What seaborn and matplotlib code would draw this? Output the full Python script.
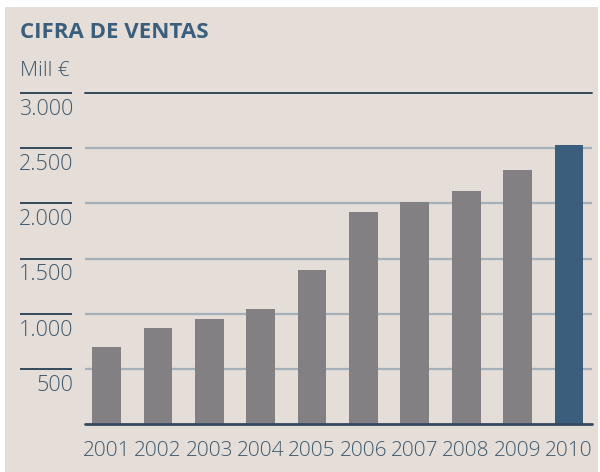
import matplotlib
matplotlib.use("Agg")
import matplotlib.pyplot as plt
import matplotlib.transforms as mtransforms
from matplotlib.patches import Rectangle
import pandas as pd
import seaborn as sns

years = ["2001", "2002", "2003", "2004", "2005", "2006", "2007", "2008", "2009", "2010"]
sales = [700, 870, 950, 1040, 1400, 1920, 2010, 2110, 2300, 2530]
tick_values = [500, 1000, 1500, 2000, 2500, 3000]
tick_labels = ["500", "1.000", "1.500", "2.000", "2.500", "3.000"]

BG = "#e5ddd8"
GREY = "#838083"
BLUE = "#3a5e7c"
TEXT = "#3f596c"
GRID = "#a4b0ba"
DARK = "#34495b"

sns.set_theme(style="white")
plt.rcParams["font.family"] = ["Open Sans", "DejaVu Sans"]

df = pd.DataFrame({"year": years, "sales": sales})
palette = {y: (BLUE if y == "2010" else GREY) for y in years}

W, H = 600, 472
fig = plt.figure(figsize=(6, 4.72), dpi=100, facecolor="white")
fig.patches.append(Rectangle((5 / W, 0), 593 / W, (H - 7) / H,
                             transform=fig.transFigure, facecolor=BG,
                             edgecolor="none", zorder=-10))

ax = fig.add_axes([85 / W, (H - 424) / H, 507 / W, (424 - 93) / H])
ax.set_facecolor("none")

sns.barplot(data=df, x="year", y="sales", hue="year", palette=palette,
            legend=False, width=0.56, saturation=1, linewidth=0,
            ax=ax, zorder=3)

ax.set_ylim(0, 3000)
ax.set_xlim(-0.42, 9.45)

# gridlines
for v in tick_values[:-1]:
    ax.axhline(v, color=GRID, lw=1.6, zorder=1)
ax.axhline(3000, color=DARK, lw=1.4, zorder=1, clip_on=False)
ax.axhline(0, color=DARK, lw=2.0, zorder=4, clip_on=False)

for s in ax.spines.values():
    s.set_visible(False)

# short lines and labels on the left
trans = mtransforms.blended_transform_factory(fig.transFigure, ax.transData)
for v, lab in zip(tick_values, tick_labels):
    ax.plot([20 / W, 72 / W], [v, v], color=DARK, lw=1.4, transform=trans,
            clip_on=False, solid_capstyle="butt")
    off = mtransforms.offset_copy(trans, fig=fig, x=0, y=-6, units="dots")
    ax.text(73 / W, v, lab, transform=off, ha="right", va="top",
            fontsize=15.5, fontweight="light", color=TEXT)

ax.set_yticks([])
ax.tick_params(axis="x", length=0, pad=12, labelsize=15, labelcolor=TEXT)
for t in ax.get_xticklabels():
    t.set_fontweight("light")
ax.set_xlabel("")
ax.set_ylabel("")

fig.text(20 / W, 1 - 32 / H, "CIFRA DE VENTAS", ha="left", va="center",
         fontsize=16, fontweight="bold", color=BLUE)
fig.text(20 / W, 1 - 71 / H, "Mill €", ha="left", va="center",
         fontsize=15, fontweight="light", color=TEXT)

fig.savefig("out.png", dpi=100, facecolor="white")
plt.close(fig)
